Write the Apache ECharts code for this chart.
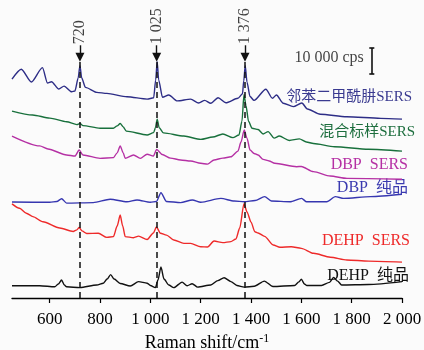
<!DOCTYPE html>
<html>
<head>
<meta charset="utf-8">
<script src="https://cdn.jsdelivr.net/npm/echarts@6/dist/echarts.min.js"></script>
<style>
  html, body { margin: 0; padding: 0; background: #fbfbfb; }
  #main { width: 424px; height: 350px; }
</style>
</head>
<body>
<div id="main"></div>
<script>
// Raman shift (cm-1) / intensity (kcps, stacked offsets included)
var phthalhydrazideSERS = [[450,84.2],[487,88.0],[527,83.1],[571,88.6],[591,82.7],[607,83.2],[636,80.4],[657,81.5],[687,79.3],[700,79.6],[713,84.6],[720,89.3],[727,84.6],[742,81.0],[787,79.1],[827,78.7],[907,77.4],[987,76.5],[1013,77.0],[1021,83.8],[1027,90.9],[1033,83.8],[1048,77.2],[1073,78.1],[1107,75.8],[1160,76.5],[1192,75.0],[1216,76.0],[1240,74.9],[1269,77.0],[1300,75.1],[1348,76.8],[1366,78.5],[1371,83.5],[1377,89.3],[1384,83.0],[1396,77.5],[1412,76.0],[1459,80.3],[1485,76.8],[1501,78.1],[1528,74.9],[1568,73.6],[1602,75.0],[1624,72.7],[1675,70.7],[1781,69.7],[1915,69.1],[2000,68.8]];
var mixedSERS = [[450,71.9],[532,70.4],[600,69.2],[667,67.8],[708,66.7],[720,67.1],[732,66.3],[800,65.3],[853,65.3],[868,66.2],[880,67.1],[892,65.8],[904,64.2],[987,62.7],[1013,63.6],[1020,65.5],[1027,68.8],[1035,65.5],[1052,63.5],[1133,62.3],[1200,61.0],[1248,61.9],[1288,63.1],[1328,61.7],[1352,62.7],[1364,68.0],[1372,78.3],[1380,74.0],[1390,68.0],[1404,65.3],[1428,64.8],[1448,63.1],[1468,64.0],[1492,61.5],[1512,62.3],[1552,60.6],[1592,61.2],[1620,60.0],[1648,59.4],[1732,58.2],[1867,57.2],[2000,56.5]];
var dbpSERS = [[450,62.3],[560,58.5],[593,57.3],[667,55.0],[700,54.6],[717,56.9],[732,55.0],[800,53.7],[853,54.0],[868,55.8],[880,58.5],[892,55.8],[900,53.7],[933,55.0],[960,53.7],[987,55.3],[1012,54.6],[1025,57.1],[1047,55.2],[1080,53.8],[1120,53.1],[1160,52.7],[1200,51.8],[1227,51.5],[1253,53.1],[1288,53.8],[1320,54.3],[1348,56.5],[1360,60.0],[1373,64.6],[1384,61.5],[1396,56.9],[1412,55.6],[1428,55.0],[1448,53.3],[1472,52.7],[1494,51.8],[1581,50.5],[1600,50.6],[1648,48.6],[1715,46.9],[1781,46.0],[2000,45.7]];
var dbpPure = [[450,36.9],[600,36.8],[628,37.1],[647,38.2],[667,36.5],[773,36.7],[840,38.0],[907,37.0],[947,37.7],[1000,36.8],[1024,37.1],[1042,40.5],[1064,37.1],[1120,36.7],[1167,37.7],[1200,36.8],[1280,38.3],[1333,37.3],[1373,37.0],[1416,37.5],[1454,39.0],[1481,37.3],[1555,37.0],[1601,38.3],[1621,37.0],[1701,37.0],[1735,39.0],[1768,38.3],[1875,39.0],[2000,39.9]];
var dehpSERS = [[450,36.2],[480,34.5],[507,32.6],[533,31.3],[573,29.3],[640,26.9],[693,25.6],[708,26.2],[717,27.1],[728,25.8],[747,24.8],[793,24.9],[827,23.3],[853,23.6],[868,27.7],[880,31.9],[890,27.7],[900,23.6],[933,23.2],[953,23.8],[987,22.5],[1012,25.0],[1024,27.3],[1040,24.9],[1064,24.2],[1093,22.3],[1133,21.0],[1160,21.0],[1200,19.7],[1227,19.6],[1253,21.9],[1288,21.3],[1320,21.7],[1340,22.7],[1355,26.9],[1372,36.3],[1384,33.1],[1400,29.2],[1415,25.5],[1428,25.0],[1454,23.7],[1488,20.4],[1515,19.5],[1560,19.7],[1600,19.1],[1648,17.2],[1715,15.7],[1781,14.6],[1867,14.2],[2000,13.8]];
var dehpPure = [[450,4.7],[560,4.7],[620,4.3],[634,5.4],[647,6.9],[658,5.0],[667,4.3],[720,4.0],[787,5.0],[813,5.7],[828,7.3],[842,9.0],[856,7.3],[880,5.6],[920,4.6],[953,6.3],[987,5.7],[1000,4.8],[1020,4.0],[1030,6.9],[1042,11.9],[1054,7.3],[1073,5.0],[1093,4.0],[1126,6.1],[1146,4.7],[1166,5.5],[1188,4.2],[1240,5.0],[1268,6.7],[1293,7.8],[1320,6.3],[1344,4.8],[1373,4.2],[1413,4.5],[1453,6.5],[1487,4.4],[1573,4.8],[1590,6.2],[1600,7.2],[1612,5.4],[1622,4.8],[1680,4.8],[1712,6.0],[1728,7.9],[1744,6.5],[1760,5.0],[1867,5.2],[2000,6.3]];

var peakShifts = [720, 1025, 1376];
var peakLabels = ['720', '1 025', '1 376'];
var tickValues = [600, 800, 1000, 1200, 1400, 1600, 1800, 2000];
var scaleBar = 10; // kcps = 10 000 cps

var serif = '"Liberation Serif", "Times New Roman", serif';
var mixed = '"Liberation Serif", "Noto Sans CJK SC", serif';

function fmtTick(v) {
    if (v >= 1000) return Math.floor(v / 1000) + ' ' + String(v % 1000).padStart(3, '0');
    return String(v);
}

function spectrum(data, color) {
    return {
        type: 'line', data: data, symbol: 'none', smooth: 0.25, smoothMonotone: 'x',
        lineStyle: { color: color, width: 1.4 }, silent: true, z: 3
    };
}

var dashedLines = peakShifts.map(function (s) {
    return [{ coord: [s, 0] }, { coord: [s, 92] }];
});
var arrowLines = peakShifts.map(function (s) {
    return [{ coord: [s, 97.2] }, { coord: [s, 92.6] }];
});
var barX = 1880, barY0 = 86.2;
var barLines = [
    [{ coord: [barX, barY0] }, { coord: [barX, barY0 + scaleBar] }],
    [{ coord: [barX - 10, barY0] }, { coord: [barX + 10, barY0] }],
    [{ coord: [barX - 10, barY0 + scaleBar] }, { coord: [barX + 10, barY0 + scaleBar] }]
];

var chart = echarts.init(document.getElementById('main'));
chart.setOption({
    animation: false,
    backgroundColor: '#fbfbfb',
    grid: { left: 12, right: 22, top: 12, bottom: 52, outerBoundsMode: 'none', containLabel: false },
    xAxis: {
        type: 'value', min: 450, max: 2000,
        axisLine: { lineStyle: { color: '#000', width: 1.3 } },
        axisTick: { show: true, length: 5, customValues: tickValues, lineStyle: { color: '#000', width: 1.2 } },
        axisLabel: { customValues: tickValues, formatter: fmtTick, fontFamily: serif, fontSize: 17, color: '#000', margin: 13 },
        splitLine: { show: false },
        name: 'Raman shift/cm{sup|-1}',
        nameLocation: 'middle', nameGap: 33,
        nameTextStyle: {
            fontFamily: serif, fontSize: 18, color: '#000', lineHeight: 20,
            rich: { sup: { fontFamily: serif, fontSize: 12, verticalAlign: 'top', color: '#000', lineHeight: 12 } }
        }
    },
    yAxis: { type: 'value', min: 0, max: 110, show: false },
    series: [
        spectrum(phthalhydrazideSERS, '#2d2d86'),
        spectrum(mixedSERS, '#18703c'),
        spectrum(dbpSERS, '#b530a4'),
        spectrum(dbpPure, '#3636b0'),
        spectrum(dehpSERS, '#ee2a2a'),
        spectrum(dehpPure, '#111111'),
        {
            type: 'line', data: [], silent: true,
            markLine: {
                silent: true, symbol: 'none', animation: false,
                label: { show: false },
                lineStyle: { color: '#111', width: 1.5, type: [6, 4] },
                data: dashedLines
            }
        },
        {
            type: 'line', data: [], silent: true,
            markLine: {
                silent: true, symbol: ['none', 'triangle'], symbolSize: 9, animation: false,
                label: { show: false },
                lineStyle: { color: '#111', width: 1.4, type: 'solid' },
                data: arrowLines
            }
        },
        {
            type: 'line', data: [], silent: true,
            markLine: {
                silent: true, symbol: 'none', animation: false,
                label: { show: false },
                lineStyle: { color: '#111', width: 1.6, type: 'solid' },
                data: barLines
            }
        },
        {
            type: 'scatter', silent: true, symbolSize: 0,
            data: peakShifts.map(function (s, i) { return { value: [s, 97.6], name: peakLabels[i] }; }),
            label: {
                show: true, position: 'inside', rotate: 90, align: 'left', verticalAlign: 'middle',
                formatter: '{b}', fontFamily: serif, fontSize: 16, color: '#111'
            }
        },
        {
            type: 'scatter', silent: true, symbolSize: 0,
            data: [{ value: [barX - 32, barY0 + scaleBar / 2 + 1], name: '10 000 cps' }],
            label: {
                show: true, position: 'inside', align: 'right', verticalAlign: 'middle',
                formatter: '{b}', fontFamily: serif, fontSize: 16, color: '#111'
            }
        }
    ],
    graphic: [
        { type: 'text', x: 412, y: 97, style: { text: '邻苯二甲酰肼SERS', fill: '#3a3a90', font: '15px ' + mixed, align: 'right', verticalAlign: 'middle' } },
        { type: 'text', x: 415, y: 132, style: { text: '混合标样SERS', fill: '#1d6e3e', font: '15px ' + mixed, align: 'right', verticalAlign: 'middle' } },
        { type: 'text', x: 408, y: 165, style: { text: 'DBP  SERS', fill: '#b530a4', font: '16px ' + mixed, align: 'right', verticalAlign: 'middle' } },
        { type: 'text', x: 408, y: 188, style: { text: 'DBP  纯品', fill: '#3a3ab0', font: '16px ' + mixed, align: 'right', verticalAlign: 'middle' } },
        { type: 'text', x: 410, y: 241, style: { text: 'DEHP  SERS', fill: '#ee2a2a', font: '16px ' + mixed, align: 'right', verticalAlign: 'middle' } },
        { type: 'text', x: 409, y: 276, style: { text: 'DEHP  纯品', fill: '#111111', font: '16px ' + mixed, align: 'right', verticalAlign: 'middle' } }
    ]
});
</script>
</body>
</html>
